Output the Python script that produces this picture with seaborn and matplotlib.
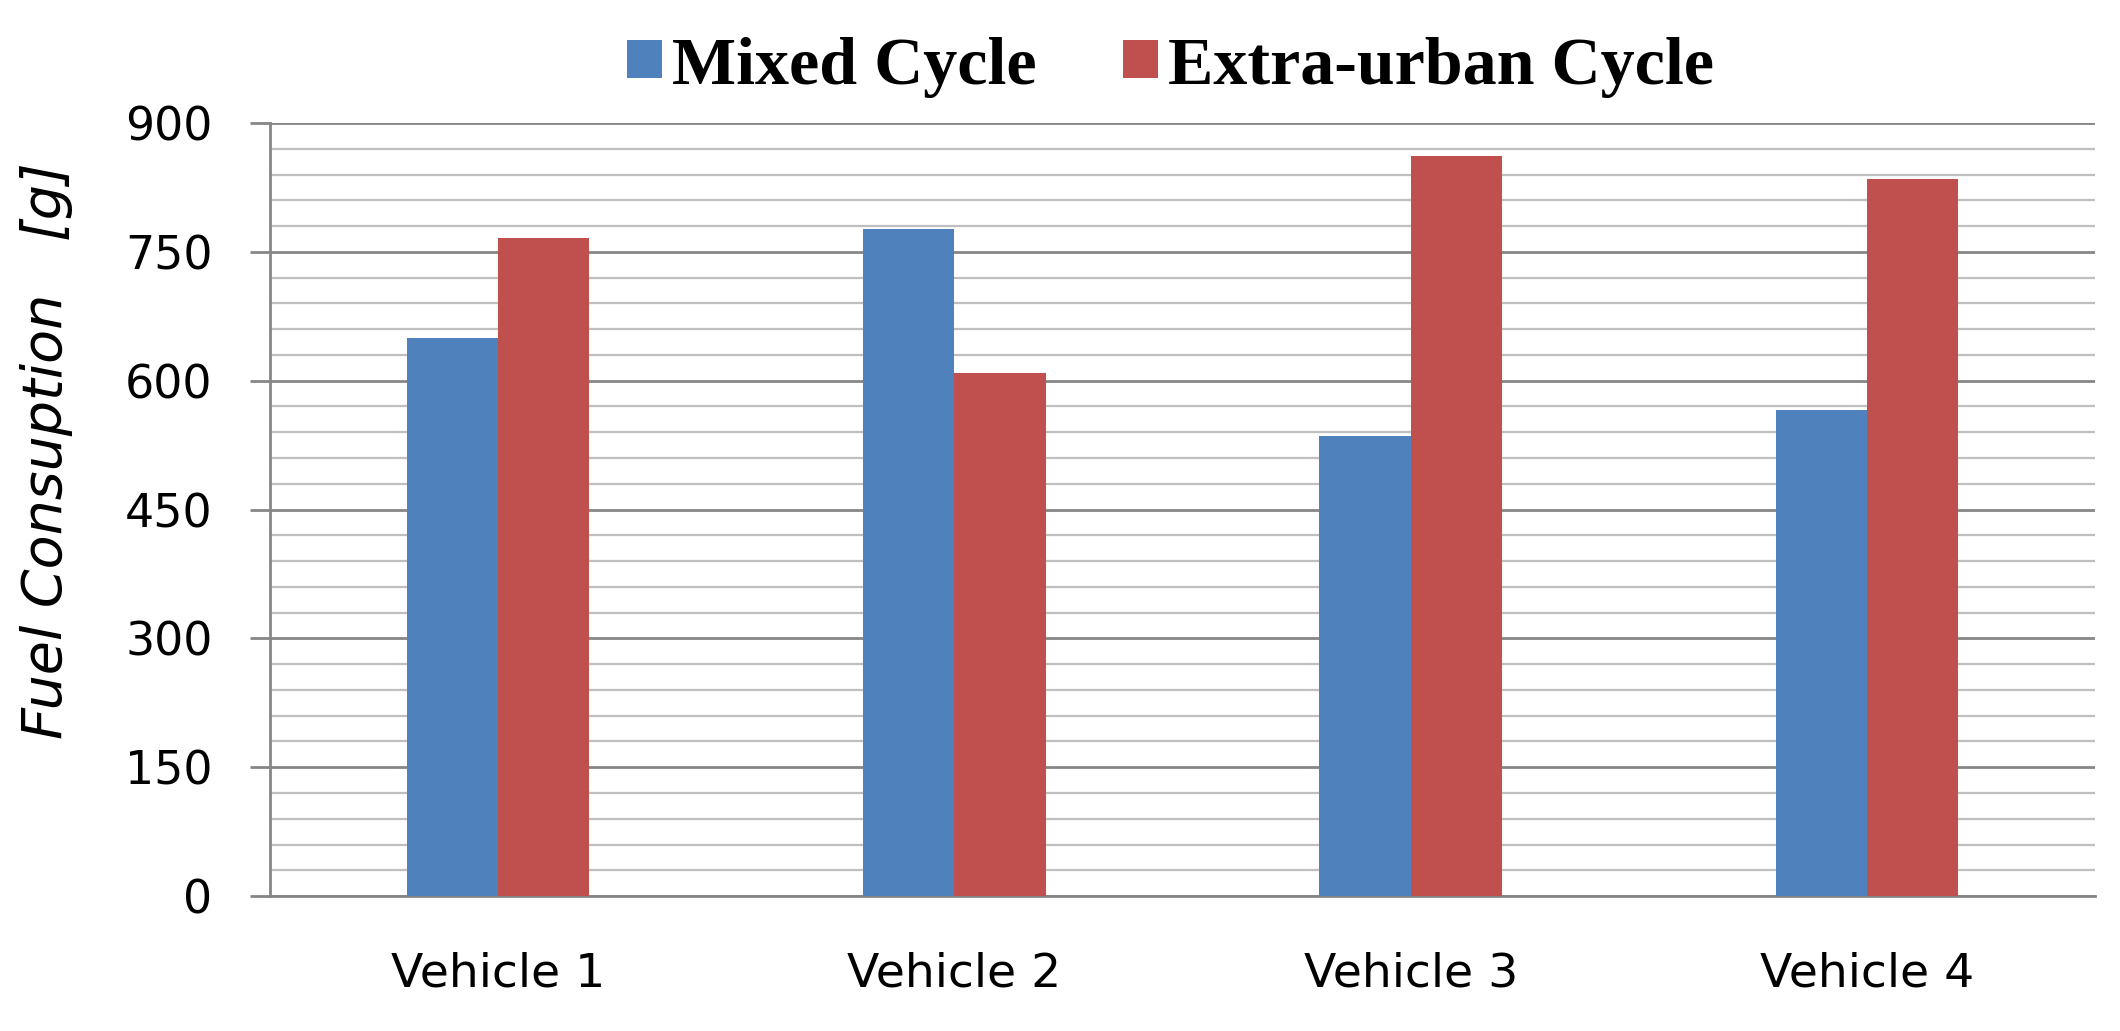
import matplotlib
matplotlib.use("Agg")
import matplotlib.pyplot as plt
from matplotlib.patches import Patch
from matplotlib.ticker import MultipleLocator
import pandas as pd
import seaborn as sns

#################### CONFIG ####################
sns.set_style("white")
plt.rcParams["font.family"] = ["DejaVu Sans"]
plt.rcParams["text.color"] = "black"
plt.rcParams["axes.labelcolor"] = "black"
plt.rcParams["xtick.labelcolor"] = "black"
plt.rcParams["ytick.labelcolor"] = "black"

BLUE = "#4F81BD"
RED = "#C0504D"
MAJOR_GREY = "#868686"
MINOR_GREY = "#BFBFBF"

#################### DATA ####################
vehicles = ["Vehicle 1", "Vehicle 2", "Vehicle 3", "Vehicle 4"]
cycles = ["Mixed Cycle", "Extra-urban Cycle"]
mixed = [650, 777, 536, 566]
extra_urban = [766, 609, 861, 835]
y_ticks = [0, 150, 300, 450, 600, 750, 900]

df = pd.DataFrame(
    {
        "vehicle": vehicles * 2,
        "cycle": [cycles[0]] * 4 + [cycles[1]] * 4,
        "fuel": mixed + extra_urban,
    }
)

#################### PLOT ####################
fig = plt.figure(figsize=(21.2, 10.31), dpi=100)
ax = fig.add_axes([0.1274, 0.1309, 0.8608, 0.7498])

sns.barplot(
    data=df,
    x="vehicle",
    y="fuel",
    hue="cycle",
    hue_order=cycles,
    order=vehicles,
    palette=[BLUE, RED],
    width=0.4,
    gap=0,
    saturation=1,
    linewidth=0,
    errorbar=None,
    legend=False,
    ax=ax,
    zorder=3,
)

ax.set_xlim(-0.5, 3.5)
ax.set_ylim(0, 900)
ax.set_yticks(y_ticks)
ax.yaxis.set_minor_locator(MultipleLocator(30))
ax.set_axisbelow(True)
ax.grid(axis="y", which="major", color=MAJOR_GREY, linewidth=2.0, zorder=0)
ax.grid(axis="y", which="minor", color=MINOR_GREY, linewidth=1.6, zorder=0)
ax.grid(axis="x", visible=False)

for side in ["top", "right"]:
    ax.spines[side].set_visible(False)
ax.spines["left"].set_color(MAJOR_GREY)
ax.spines["left"].set_linewidth(2.0)
ax.spines["bottom"].set_color(MAJOR_GREY)
ax.spines["bottom"].set_linewidth(2.0)

ax.tick_params(axis="y", which="major", length=14.5, width=2.0, color=MAJOR_GREY,
               direction="out", pad=27, labelsize=33, left=True)
ax.tick_params(axis="y", which="minor", length=0)
ax.tick_params(axis="x", length=0, pad=40, labelsize=34)

ax.set_xlabel("")
ax.set_ylabel("Fuel Consuption   [g]", fontstyle="italic", fontsize=40)
ax.yaxis.set_label_coords(-0.108, 0.576)

handles = [Patch(facecolor=BLUE, edgecolor="none"), Patch(facecolor=RED, edgecolor="none")]
fig.legend(
    handles,
    cycles,
    loc="center",
    bbox_to_anchor=(0.552, 0.935),
    ncol=2,
    frameon=False,
    labelcolor="black",
    prop={"family": "Liberation Serif", "weight": "bold", "size": 49},
    handlelength=0.52,
    handleheight=0.48,
    handletextpad=0.14,
    columnspacing=1.27,
)

plt.savefig("out.png", facecolor="white", dpi=100)
